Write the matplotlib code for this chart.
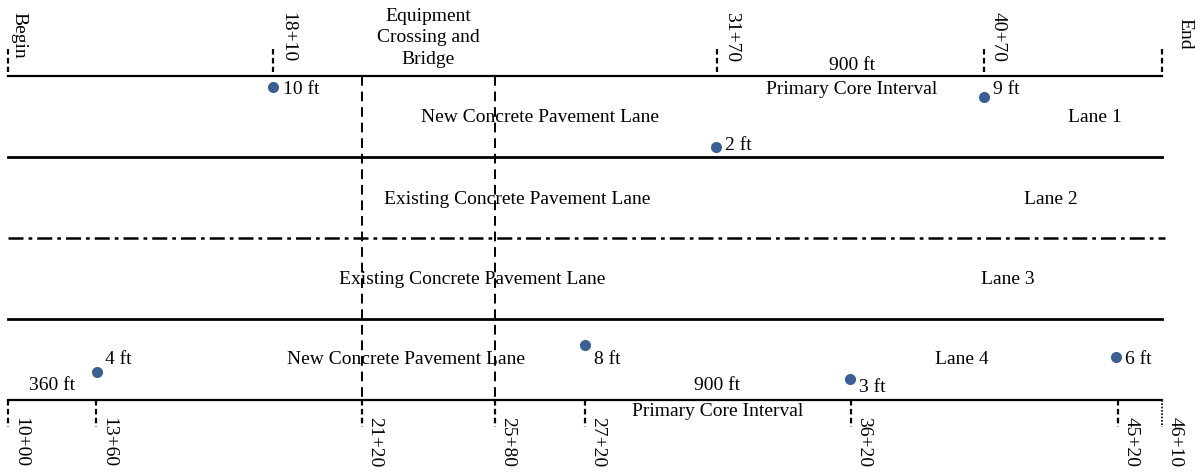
import matplotlib
matplotlib.use("Agg")
import matplotlib.pyplot as plt

plt.rcParams['font.family'] = ['Liberation Serif', 'DejaVu Serif']

# station marks along the top and bottom edges (schematic x position, px)
top_stations = ["Begin", "18+10", "31+70", "40+70", "End"]
top_station_x = [8, 273, 717, 984, 1162]
bottom_stations = ["10+00", "13+60", "21+20", "25+80", "27+20", "36+20", "45+20", "46+10"]
bottom_station_x = [8, 96, 362, 495, 585, 851, 1118, 1162]

# equipment crossing / bridge limits
bridge_x = [362, 495]

# core locations and their offsets from the lane edge
core_labels = ["10 ft", "9 ft", "2 ft", "4 ft", "8 ft", "3 ft", "6 ft"]
core_x = [273, 984, 716, 97, 585, 850, 1116]
core_y = [87, 97, 147, 372, 345, 379, 357]

# lane boundaries (y, px)
edge_top, lane12, lane23, lane34, edge_bot = 76, 157, 238, 319, 400
lane_names = ["Lane 1", "Lane 2", "Lane 3", "Lane 4"]
lane_types = ["New Concrete Pavement Lane", "Existing Concrete Pavement Lane",
              "Existing Concrete Pavement Lane", "New Concrete Pavement Lane"]

W, H = 1202, 472
fig = plt.figure(figsize=(W / 100, H / 100), dpi=100)
ax = fig.add_axes([0, 0, 1, 1])
ax.set_xlim(0, W)
ax.set_ylim(H, 0)
ax.axis("off")

FS = 14
x0, x1 = bottom_station_x[0], bottom_station_x[-1]

# lane lines
ax.plot([x0, x1], [edge_top, edge_top], color="black", lw=1.6)
ax.plot([x0, x1], [lane12, lane12], color="black", lw=2)
ax.plot([x0, x1 + 3], [lane23, lane23], color="black", lw=1.8,
        linestyle=(0, (6, 2, 1.5, 2)))
ax.plot([x0, x1], [lane34, lane34], color="black", lw=2)
ax.plot([x0, x1], [edge_bot, edge_bot], color="black", lw=1.6)

# bridge limits through all lanes
ax.vlines(bridge_x, edge_top, edge_bot, colors="black", lw=1.4,
          linestyles=(0, (5, 3)))

# top station ticks and labels
ax.vlines(top_station_x, 49, 72, colors="black", lw=1.6, linestyles=(0, (2.5, 1.5)))
top_lab_x = [19, 288, 732, 998, 1185]
top_lab_y = [12, 12, 12, 12, 18]
for lab, lx, ly in zip(top_stations, top_lab_x, top_lab_y):
    ax.text(lx, ly, lab, rotation=270, ha="center", va="top", fontsize=FS)

# bottom station ticks and labels
ax.vlines(bottom_station_x[:-1], edge_bot, 427, colors="black", lw=1.6,
          linestyles=(0, (2.5, 1.5)))
ax.vlines(bottom_station_x[-1:], edge_bot, 427, colors="black", lw=1.2,
          linestyles=(0, (1, 1)))
for lab, sx in zip(bottom_stations, bottom_station_x):
    ax.text(sx + 13, 417, lab, rotation=270, ha="center", va="top", fontsize=FS)

# cores
ax.plot(core_x, core_y, "o", color="#3B5F93", ms=8, mec="none")
offsets = [(10, 2), (9, -7), (9, -2), (8, -12), (9, 14), (9, 8), (9, 2)]
for lab, cx, cy, (dx, dy) in zip(core_labels, core_x, core_y, offsets):
    ax.text(cx + dx, cy + dy, lab, ha="left", va="center", fontsize=FS)

# lane texts
type_x = [540, 517, 472, 406]
name_x = [1095, 1051, 1008, 962]
lane_y = [117, 199, 279, 360]
for t, n, tx, nx, ly in zip(lane_types, lane_names, type_x, name_x, lane_y):
    ax.text(tx, ly, t, ha="center", va="center", fontsize=FS)
    ax.text(nx, ly, n, ha="center", va="center", fontsize=FS)

# core interval annotations
ax.text(852, 65, "900 ft", ha="center", va="center", fontsize=FS)
ax.text(852, 90, "Primary Core Interval", ha="center", va="center", fontsize=FS)
ax.text(717, 386, "900 ft", ha="center", va="center", fontsize=FS)
ax.text(718, 412, "Primary Core Interval", ha="center", va="center", fontsize=FS)
ax.text(52, 386, "360 ft", ha="center", va="center", fontsize=FS)

ax.text(428, 38, "Equipment\nCrossing and\nBridge", ha="center", va="center",
        fontsize=FS, linespacing=1.36)

fig.savefig("out.png", dpi=100)
